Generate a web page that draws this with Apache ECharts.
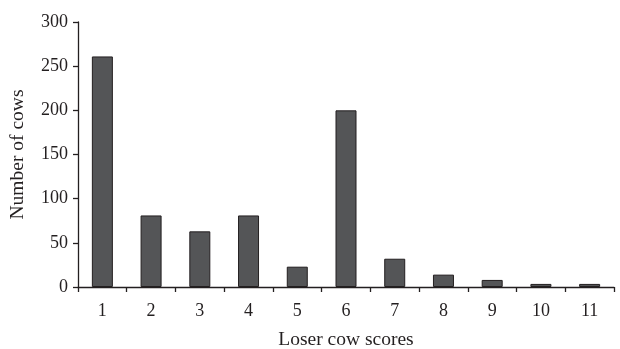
<!DOCTYPE html>
<html><head><meta charset="utf-8">
<script src="https://cdn.jsdelivr.net/npm/echarts@6/dist/echarts.min.js"></script>
<style>html,body{margin:0;padding:0;background:#fff}#c{width:620px;height:349px}</style>
</head><body><div id="c"></div>
<script>
const categories = ['1','2','3','4','5','6','7','8','9','10','11'];
const cowCounts = [261, 81, 63, 81, 23, 200, 32, 14, 8, 3.5, 3.5];
const yTicks = [0, 50, 100, 150, 200, 250, 300];

const font = 'Liberation Serif';
const ink = '#231f20';
const chart = echarts.init(document.getElementById('c'));
chart.setOption({
  animation: false,
  grid: {left: 78, top: 22, right: 6, bottom: 62, containLabel: false, outerBoundsMode: 'none'},
  xAxis: {
    type: 'category',
    data: categories,
    name: 'Loser cow scores',
    nameLocation: 'middle',
    nameGap: 43,
    nameTextStyle: {fontFamily: font, fontSize: 19.5, color: ink},
    axisLine: {lineStyle: {color: ink, width: 1.3}},
    axisTick: {show: true, alignWithLabel: false, length: 5, lineStyle: {color: ink, width: 1.3}},
    axisLabel: {fontFamily: font, fontSize: 18, color: ink, margin: 15}
  },
  yAxis: {
    type: 'value',
    min: yTicks[0],
    max: yTicks[yTicks.length - 1],
    interval: 50,
    name: 'Number of cows',
    nameLocation: 'middle',
    nameGap: 50,
    nameTextStyle: {fontFamily: font, fontSize: 19.5, color: ink},
    axisLine: {show: true, lineStyle: {color: ink, width: 1.3}},
    axisTick: {show: true, length: 5, lineStyle: {color: ink, width: 1.3}},
    axisLabel: {fontFamily: font, fontSize: 18, color: ink, margin: 10},
    splitLine: {show: false}
  },
  series: [{
    type: 'bar',
    data: cowCounts,
    barWidth: 21,
    itemStyle: {color: '#545557', borderColor: ink, borderWidth: 1}
  }]
});
</script></body></html>
